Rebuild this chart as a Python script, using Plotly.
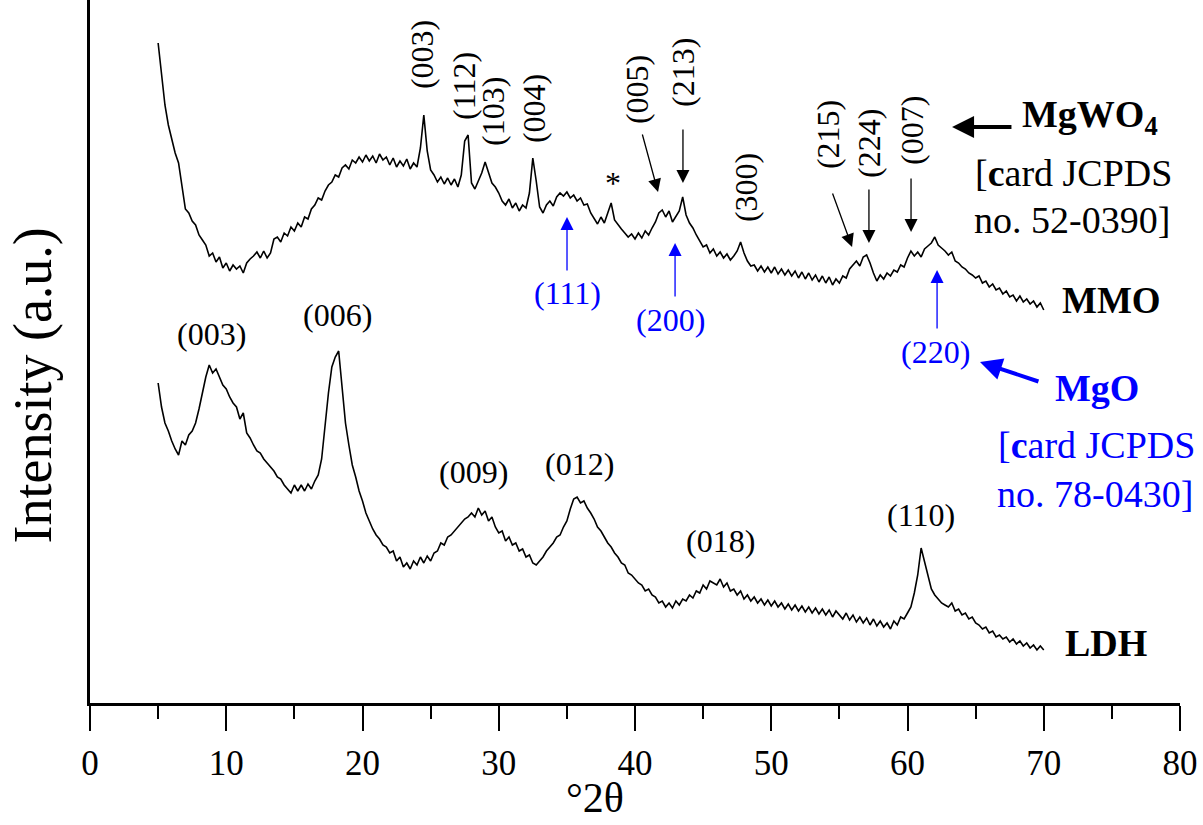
import numpy as np
import plotly.graph_objects as go

# 2-theta sampling grid (degrees), 0.25 deg step from 5 to 70
X_START, X_STEP = 5.0, 0.25

# MMO pattern intensity (a.u.), one row per degree (4 samples), last value at 70 deg
mmo = [
    660, 632, 598, 578,   # 5
    565, 550, 540, 515,   # 6
    494, 490, 482, 478,   # 7
    468, 463, 458, 447,   # 8
    450, 441, 446, 435,   # 9
    440, 432, 438, 434,   # 10
    437, 430, 440, 444,   # 11
    447, 451, 445, 452,   # 12
    445, 450, 464, 466,   # 13
    461, 470, 467, 476,   # 14
    472, 480, 476, 486,   # 15
    484, 494, 498, 505,   # 16
    503, 512, 518, 521,   # 17
    528, 526, 535, 538,   # 18
    534, 543, 540, 546,   # 19
    541, 548, 542, 547,   # 20
    540, 549, 543, 546,   # 21
    538, 545, 536, 542,   # 22
    537, 544, 534, 540,   # 23
    536, 555, 588, 552,   # 24
    533, 528, 521, 526,   # 25
    519, 525, 518, 524,   # 26
    516, 528, 562, 568,   # 27
    520, 514, 522, 530,   # 28
    541, 530, 520, 516,   # 29
    510, 502, 498, 504,   # 30
    495, 500, 492, 498,   # 31
    495, 510, 545, 522,   # 32
    496, 490, 498, 502,   # 33
    497, 506, 510, 507,   # 34
    511, 505, 508, 502,   # 35
    505, 498, 499, 490,   # 36
    484, 479, 486, 480,   # 37
    490, 500, 483, 478,   # 38
    474, 470, 466, 469,   # 39
    464, 470, 465, 472,   # 40
    468, 475, 481, 490,   # 41
    493, 486, 492, 481,   # 42
    487, 492, 506, 488,   # 43
    480, 475, 468, 462,   # 44
    456, 458, 450, 454,   # 45
    447, 451, 445, 449,   # 46
    443, 447, 452, 461,   # 47
    450, 442, 437, 438,   # 48
    432, 437, 431, 436,   # 49
    430, 436, 429, 434,   # 50
    428, 433, 427, 432,   # 51
    425, 431, 424, 430,   # 52
    423, 428, 421, 427,   # 53
    420, 426, 418, 424,   # 54
    420, 427, 425, 434,   # 55
    438, 442, 437, 446,   # 56
    448, 440, 430, 422,   # 57
    428, 424, 430, 427,   # 58
    433, 431, 438, 436,   # 59
    445, 452, 447, 451,   # 60
    446, 454, 457, 460,   # 61
    466, 458, 455, 452,   # 62
    448, 451, 442, 440,   # 63
    436, 434, 430, 428,   # 64
    425, 427, 420, 422,   # 65
    416, 419, 413, 415,   # 66
    409, 412, 406, 408,   # 67
    402, 407, 401, 404,   # 68
    399, 402, 396, 400,   # 69
    393,                  # 70
]

# LDH pattern intensity (a.u.)
ldh = [
    320, 296, 280, 272,   # 5
    262, 254, 248, 262,   # 6
    258, 268, 272, 280,   # 7
    294, 310, 326, 338,   # 8
    330, 334, 325, 318,   # 9
    314, 306, 300, 296,   # 10
    284, 290, 270, 265,   # 11
    258, 252, 250, 244,   # 12
    240, 236, 232, 226,   # 13
    224, 218, 214, 210,   # 14
    218, 212, 218, 212,   # 15
    219, 214, 222, 228,   # 16
    244, 278, 310, 336,   # 17
    346, 352, 314, 280,   # 18
    258, 238, 226, 212,   # 19
    202, 190, 182, 174,   # 20
    168, 164, 158, 156,   # 21
    150, 152, 142, 146,   # 22
    136, 140, 134, 142,   # 23
    138, 146, 140, 147,   # 24
    142, 150, 152, 160,   # 25
    158, 166, 168, 172,   # 26
    176, 180, 184, 186,   # 27
    190, 186, 195, 188,   # 28
    192, 182, 186, 176,   # 29
    170, 172, 162, 166,   # 30
    158, 160, 152, 154,   # 31
    146, 148, 140, 138,   # 32
    142, 146, 152, 156,   # 33
    160, 166, 168, 176,   # 34
    182, 194, 204, 206,   # 35
    200, 202, 195, 190,   # 36
    184, 176, 172, 166,   # 37
    160, 156, 150, 146,   # 38
    140, 138, 130, 128,   # 39
    124, 120, 118, 112,   # 40
    114, 108, 106, 100,   # 41
    102, 96, 100, 95,     # 42
    102, 98, 104, 102,    # 43
    108, 105, 112, 110,   # 44
    118, 114, 122, 120,   # 45
    118, 124, 116, 120,   # 46
    112, 114, 108, 112,   # 47
    104, 108, 102, 106,   # 48
    100, 104, 98, 103,    # 49
    97, 102, 96, 100,     # 50
    94, 99, 93, 98,       # 51
    92, 97, 91, 96,       # 52
    90, 95, 89, 94,       # 53
    88, 93, 86, 92,       # 54
    88, 84, 90, 83,       # 55
    88, 81, 86, 80,       # 56
    85, 78, 84, 77,       # 57
    82, 76, 80, 74,       # 58
    82, 78, 86, 84,       # 59
    90, 96, 110, 128,     # 60
    155, 142, 126, 114,   # 61
    108, 104, 100, 98,    # 62
    96, 100, 92, 94,      # 63
    88, 90, 84, 86,       # 64
    80, 78, 74, 76,       # 65
    70, 72, 66, 68,       # 66
    64, 66, 61, 64,       # 67
    59, 62, 57, 60,       # 68
    55, 58, 53, 57,       # 69
    53,                   # 70
]

x_mmo = X_START + X_STEP * np.arange(len(mmo))
x_ldh = X_START + X_STEP * np.arange(len(ldh))

# Rotated MgWO4 reflection labels: (text, 2theta, y)
mgwo4_labels = [
    ("(003)", 24.37, 648), ("(112)", 27.45, 617), ("(103)", 29.58, 591),
    ("(004)", 32.59, 594), ("(005)", 40.15, 613), ("(213)", 43.52, 631),
    ("(300)", 48.15, 515), ("(215)", 54.17, 568), ("(224)", 57.17, 560),
    ("(007)", 60.33, 572),
]
# LDH reflection labels
ldh_labels = [
    ("(003)", 8.95, 369), ("(006)", 18.13, 388), ("(009)", 28.18, 231),
    ("(012)", 35.89, 239), ("(018)", 46.24, 162), ("(110)", 60.99, 188),
]
# MgO reflection labels (blue)
mgo_labels = [("(111)", 35.01, 410), ("(200)", 42.64, 383), ("(220)", 62.02, 351)]

# Arrows: (tip_x, tip_y, tail_x, tail_y)
black_arrows = [
    (41.69, 511, 40.51, 570), (43.52, 520, 43.52, 575),
    (55.93, 456, 54.46, 511), (57.17, 460, 57.17, 515),
    (60.26, 471, 60.26, 526),
]
blue_arrows = [
    (35.01, 486, 35.01, 431), (42.94, 460, 42.94, 405), (62.17, 433, 62.17, 373),
]

FONT = "Times New Roman, Liberation Serif, serif"
BLUE = "#0000ff"

fig = go.Figure()
fig.add_trace(go.Scatter(x=x_mmo, y=mmo, mode="lines",
                         line=dict(color="black", width=1.6), showlegend=False))
fig.add_trace(go.Scatter(x=x_ldh, y=ldh, mode="lines",
                         line=dict(color="black", width=1.6), showlegend=False))

ann = []
for t, x, y in mgwo4_labels:
    ann.append(dict(x=x, y=y, text=t, textangle=-90, showarrow=False,
                    font=dict(family=FONT, size=32, color="black")))
ann.append(dict(x=38.39, y=520, text="*", showarrow=False,
                font=dict(family=FONT, size=32, color="black")))
for t, x, y in ldh_labels:
    ann.append(dict(x=x, y=y, text=t, showarrow=False,
                    font=dict(family=FONT, size=32, color="black")))
for t, x, y in mgo_labels:
    ann.append(dict(x=x, y=y, text=t, showarrow=False,
                    font=dict(family=FONT, size=32, color=BLUE)))
for tx, ty, ax, ay in black_arrows:
    ann.append(dict(x=tx, y=ty, ax=ax, ay=ay, axref="x", ayref="y", text="",
                    showarrow=True, arrowhead=2, arrowsize=2.0, arrowwidth=1.3,
                    arrowcolor="black"))
for tx, ty, ax, ay in blue_arrows:
    ann.append(dict(x=tx, y=ty, ax=ax, ay=ay, axref="x", ayref="y", text="",
                    showarrow=True, arrowhead=2, arrowsize=2.0, arrowwidth=1.3,
                    arrowcolor=BLUE))
# big arrows
ann.append(dict(x=63.27, y=576, ax=67.74, ay=576, axref="x", ayref="y", text="",
                showarrow=True, arrowhead=2, arrowsize=1.1, arrowwidth=4,
                arrowcolor="black"))
ann.append(dict(x=65.32, y=341, ax=69.72, ay=321, axref="x", ayref="y", text="",
                showarrow=True, arrowhead=2, arrowsize=1.1, arrowwidth=4,
                arrowcolor=BLUE))

# right-side texts
ann += [
    dict(x=73.39, y=586, text="<b>MgWO<sub>4</sub></b>", showarrow=False,
         font=dict(family=FONT, size=38, color="black")),
    dict(x=72.15, y=530, text="[<b>c</b>ard JCPDS", showarrow=False,
         font=dict(family=FONT, size=38, color="black")),
    dict(x=72.07, y=483, text="no. 52-0390]", showarrow=False,
         font=dict(family=FONT, size=38, color="black")),
    dict(x=74.94, y=403, text="<b>MMO</b>", showarrow=False,
         font=dict(family=FONT, size=37, color="black")),
    dict(x=74.57, y=60, text="<b>LDH</b>", showarrow=False,
         font=dict(family=FONT, size=38, color="black")),
    dict(x=73.9, y=315, text="<b>MgO</b>", showarrow=False,
         font=dict(family=FONT, size=38, color=BLUE)),
    dict(x=73.9, y=258, text="[<b>c</b>ard JCPDS", showarrow=False,
         font=dict(family=FONT, size=38, color=BLUE)),
    dict(x=73.76, y=209, text="no. 78-0430]", showarrow=False,
         font=dict(family=FONT, size=38, color=BLUE)),
    # axis titles (paper coordinates)
    dict(xref="paper", yref="paper", x=-0.052, y=0.452, text="Intensity (a.u.)",
         textangle=-90, showarrow=False, xanchor="center", yanchor="middle",
         font=dict(family=FONT, size=54, color="black")),
    dict(xref="paper", yref="paper", x=0.463, y=-0.135, text="°2θ",
         showarrow=False, xanchor="center", yanchor="middle",
         font=dict(family=FONT, size=42, color="black")),
]

fig.update_layout(
    width=1203, height=825,
    margin=dict(l=90, r=23, t=0, b=122),
    paper_bgcolor="white", plot_bgcolor="white",
    annotations=ann,
    xaxis=dict(range=[0, 80], tick0=0, dtick=10, showgrid=False, zeroline=False,
               showline=True, linecolor="black", linewidth=2.5,
               ticks="outside", ticklen=25, tickwidth=2, tickcolor="black",
               minor=dict(dtick=5, ticks="outside", ticklen=13, tickwidth=2,
                          tickcolor="black", showgrid=False),
               tickfont=dict(family=FONT, size=35, color="black"),
               ticklabelstandoff=2),
    yaxis=dict(range=[0, 703], showgrid=False, zeroline=False, showticklabels=False,
               showline=True, linecolor="black", linewidth=2.5, ticks=""),
)

fig.write_html("out.html")
